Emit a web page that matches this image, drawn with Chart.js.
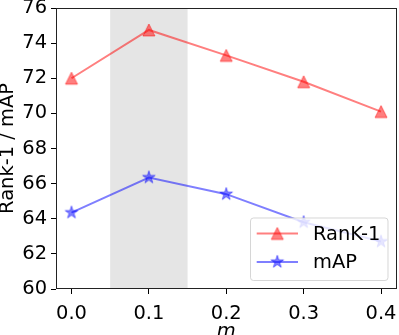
<!DOCTYPE html>
<html>
<head>
<meta charset="utf-8">
<script src="https://cdn.jsdelivr.net/npm/chart.js@4.4.1/dist/chart.umd.min.js"></script>
<style>
html,body{margin:0;padding:0;background:#fff;}
#wrap{width:399px;height:335px;}
</style>
</head>
<body>
<div id="wrap"><canvas id="c" width="399" height="335"></canvas></div>
<script>
// ---- data ----
const mValues = [0.0, 0.1, 0.2, 0.3, 0.4];
const rank1 = [72.0, 74.75, 73.3, 71.8, 70.1];
const mAP = [64.35, 66.35, 65.4, 63.8, 62.7];
const xTicks = [0.0, 0.1, 0.2, 0.3, 0.4];
const yTicks = [60, 62, 64, 66, 68, 70, 72, 74, 76];
const shadeRange = [0.05, 0.15];
const seriesLabels = ['RanK-1', 'mAP'];

const FONT = 'DejaVu Sans';
const FS = 19.44;

function makeMarker(kind, rgb) {
  const c = document.createElement('canvas');
  c.width = 16; c.height = 16;
  const g = c.getContext('2d');
  const cx = 8, cy = 8;
  g.beginPath();
  if (kind === 'tri') {
    const s = 6;
    g.moveTo(cx, cy - s);
    g.lineTo(cx - s, cy + s);
    g.lineTo(cx + s, cy + s);
    g.closePath();
  } else {
    const R = 6.6, r = R * 0.381966;
    for (let i = 0; i < 10; i++) {
      const rad = (i % 2 === 0) ? R : r;
      const a = -Math.PI / 2 + i * Math.PI / 5;
      const px = cx + rad * Math.cos(a), py = cy + rad * Math.sin(a);
      if (i === 0) g.moveTo(px, py); else g.lineTo(px, py);
    }
    g.closePath();
  }
  g.fillStyle = 'rgba(' + rgb + ',0.5)';
  g.fill();
  g.lineWidth = 1;
  g.strokeStyle = 'rgba(' + rgb + ',0.5)';
  g.stroke();
  return c;
}
const triImg = makeMarker('tri', '255,0,0');
const starImg = makeMarker('star', '0,0,255');

const shadePlugin = {
  id: 'shade',
  beforeDatasetsDraw(chart) {
    const {ctx, chartArea, scales} = chart;
    const x0 = scales.x.getPixelForValue(shadeRange[0]);
    const x1 = scales.x.getPixelForValue(shadeRange[1]);
    ctx.save();
    ctx.fillStyle = '#e5e5e5';
    ctx.fillRect(x0, chartArea.top, x1 - x0, chartArea.bottom - chartArea.top);
    ctx.restore();
  },
  afterDatasetsDraw(chart) {
    const {ctx, chartArea} = chart;
    ctx.save();
    ctx.strokeStyle = '#222';
    ctx.lineWidth = 1;
    ctx.strokeRect(Math.round(chartArea.left) + 0.5, Math.round(chartArea.top) + 0.5,
      Math.round(chartArea.right - chartArea.left) - 1, Math.round(chartArea.bottom - chartArea.top) - 1);
    // legend
    const w = 137.5, h = 62.5;
    const right = chartArea.right - 9, bottom = chartArea.bottom - 9;
    const left = right - w, top = bottom - h;
    ctx.beginPath();
    if (ctx.roundRect) ctx.roundRect(left + 0.5, top + 0.5, w, h, 3); else ctx.rect(left + 0.5, top + 0.5, w, h);
    ctx.fillStyle = 'rgba(255,255,255,0.8)';
    ctx.fill();
    ctx.strokeStyle = 'rgba(204,204,204,0.8)';
    ctx.lineWidth = 1;
    ctx.stroke();
    const rows = [
      {y: top + 16, color: 'rgba(255,0,0,0.5)', img: triImg, label: seriesLabels[0]},
      {y: top + 44.4, color: 'rgba(0,0,255,0.5)', img: starImg, label: seriesLabels[1]}
    ];
    rows.forEach(rw => {
      ctx.beginPath();
      ctx.moveTo(left + 6.7, rw.y);
      ctx.lineTo(left + 48, rw.y);
      ctx.strokeStyle = rw.color;
      ctx.lineWidth = 2;
      ctx.stroke();
      ctx.drawImage(rw.img, left + 27.3 - 8, rw.y - 8);
      ctx.fillStyle = '#000';
      ctx.font = FS + 'px "' + FONT + '"';
      ctx.textBaseline = 'middle';
      ctx.textAlign = 'left';
      ctx.fillText(rw.label, left + 63, rw.y + 1);
    });
    ctx.restore();
  }
};

function zeroPad(scale) {
  scale.paddingTop = 0; scale.paddingBottom = 0; scale.paddingLeft = 0; scale.paddingRight = 0;
}

new Chart(document.getElementById('c'), {
  type: 'line',
  data: {
    datasets: [
      {
        label: seriesLabels[0],
        data: mValues.map((m, i) => ({x: m, y: rank1[i]})),
        borderColor: 'rgba(255,0,0,0.5)',
        borderWidth: 2,
        pointStyle: triImg,
        pointRadius: 6,
        pointHoverRadius: 6,
        tension: 0
      },
      {
        label: seriesLabels[1],
        data: mValues.map((m, i) => ({x: m, y: mAP[i]})),
        borderColor: 'rgba(0,0,255,0.5)',
        borderWidth: 2,
        pointStyle: starImg,
        pointRadius: 6,
        pointHoverRadius: 6,
        tension: 0
      }
    ]
  },
  options: {
    responsive: false,
    animation: false,
    events: [],
    layout: {autoPadding: false, padding: {top: 8, right: 2.5, left: 0, bottom: 0}},
    plugins: {legend: {display: false}, tooltip: {enabled: false}},
    scales: {
      x: {
        type: 'linear',
        min: -0.02,
        max: 0.42,
        afterBuildTicks(scale) { scale.ticks = xTicks.map(v => ({value: v})); },
        afterFit(scale) { scale.height = 46; zeroPad(scale); },
        border: {display: false},
        grid: {display: true, drawOnChartArea: false, drawTicks: true, tickLength: 5, color: '#000', lineWidth: 1},
        ticks: {
          padding: 8,
          color: '#000',
          font: {family: FONT, size: FS},
          maxRotation: 0,
          callback: v => Number(v).toFixed(1)
        },
        title: {
          display: true,
          text: 'm',
          color: '#000',
          font: {family: FONT, size: FS, style: 'italic', lineHeight: 0.65},
          padding: {top: 0, bottom: -3}
        }
      },
      y: {
        min: 60,
        max: 76,
        afterBuildTicks(scale) { scale.ticks = yTicks.map(v => ({value: v})); },
        afterFit(scale) { scale.width = 56; zeroPad(scale); },
        border: {display: false},
        grid: {display: true, drawOnChartArea: false, drawTicks: true, tickLength: 5, color: '#000', lineWidth: 1},
        ticks: {
          padding: 4,
          color: '#000',
          font: {family: FONT, size: FS},
          callback: v => String(v)
        },
        title: {
          display: true,
          text: 'Rank-1 / mAP',
          color: '#000',
          font: {family: FONT, size: FS, lineHeight: 0.8},
          padding: {top: 0, bottom: 0}
        }
      }
    }
  },
  plugins: [shadePlugin]
});
</script>
</body>
</html>
